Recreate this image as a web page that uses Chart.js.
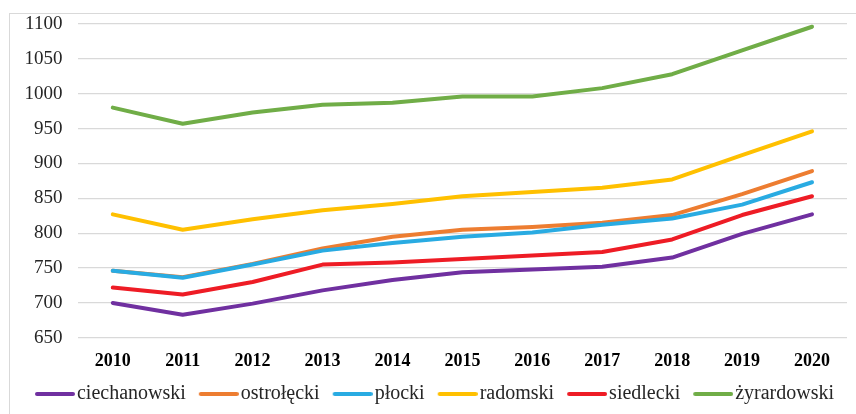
<!DOCTYPE html>
<html>
<head>
<meta charset="utf-8">
<script src="https://cdn.jsdelivr.net/npm/chart.js@4/dist/chart.umd.min.js"></script>
<style>
  html, body { margin: 0; padding: 0; background: #fff; }
  #wrap { position: relative; width: 856px; height: 414px; }
</style>
</head>
<body>
<div id="wrap"><canvas id="chart" width="856" height="414"></canvas></div>
<script>
const years = ["2010", "2011", "2012", "2013", "2014", "2015", "2016", "2017", "2018", "2019", "2020"];

const ciechanowski = [700, 683, 699, 718, 733, 744, 748, 752, 765, 799, 827];
const ostroleki    = [746, 737, 756, 778, 795, 805, 809, 815, 826, 856, 889];
const plocki       = [746, 736, 755, 775, 786, 795, 801, 812, 821, 841, 873];
const radomski     = [827, 805, 820, 833, 842, 853, 859, 865, 877, 912, 946];
const siedlecki    = [722, 712, 730, 755, 758, 763, 768, 773, 791, 826, 853];
const zyrardowski  = [980, 957, 973, 984, 987, 996, 996, 1008, 1028, 1062, 1096];

const seriesNames = ["ciechanowski", "ostrołęcki", "płocki", "radomski", "siedlecki", "żyrardowski"];
const seriesValues = [ciechanowski, ostroleki, plocki, radomski, siedlecki, zyrardowski];
const seriesColors = ["#7030A0", "#ED7D31", "#29ABE2", "#FFC000", "#EE1C25", "#70AD47"];

const yMin = 650;
const yMax = 1100;
const yStep = 50;

const serif = "'Liberation Serif', 'Times New Roman', serif";
const textColor = "#262626";
const gridColor = "#d9d9d9";

// legend swatch: a short thick line, offset inside a wider transparent image
function swatch(color) {
  const c = document.createElement("canvas");
  c.width = 61;
  c.height = 6;
  const g = c.getContext("2d");
  g.strokeStyle = color;
  g.lineWidth = 4;
  g.lineCap = "round";
  g.beginPath();
  g.moveTo(23, 3);
  g.lineTo(59, 3);
  g.stroke();
  return c;
}

const frame = {
  id: "frame",
  beforeDraw(chart) {
    const ctx = chart.ctx;
    ctx.save();
    ctx.fillStyle = "#fff";
    ctx.fillRect(0, 0, chart.width, chart.height);
    ctx.strokeStyle = gridColor;
    ctx.lineWidth = 1;
    ctx.strokeRect(9.5, 13.5, 900, 500);
    ctx.restore();
  }
};

const datasets = seriesNames.map((name, i) => ({
  label: name,
  data: seriesValues[i],
  borderColor: seriesColors[i],
  backgroundColor: seriesColors[i],
  borderWidth: 4,
  borderCapStyle: "round",
  borderJoinStyle: "round",
  pointRadius: 0,
  pointHoverRadius: 0,
  tension: 0,
  fill: false,
  order: -i
}));

new Chart(document.getElementById("chart"), {
  type: "line",
  data: { labels: years, datasets: datasets },
  plugins: [frame],
  options: {
    responsive: false,
    animation: false,
    layout: { padding: { top: 20, right: 9, bottom: 0, left: 9 } },
    plugins: {
      tooltip: { enabled: false },
      legend: {
        position: "bottom",
        labels: {
          usePointStyle: true,
          pointStyleWidth: 45,
          padding: 0,
          color: textColor,
          font: { family: serif, size: 20 },
          sort: (a, b) => a.datasetIndex - b.datasetIndex,
          generateLabels(chart) {
            const items = Chart.defaults.plugins.legend.labels.generateLabels(chart);
            items.forEach((it) => { it.pointStyle = swatch(seriesColors[it.datasetIndex]); });
            return items;
          }
        }
      }
    },
    scales: {
      x: {
        offset: true,
        grid: { display: false, drawTicks: false },
        border: { display: false },
        ticks: {
          padding: 15,
          color: "#000",
          font: { family: serif, size: 18, weight: "bold", lineHeight: 0.9 }
        }
      },
      y: {
        min: yMin,
        max: yMax,
        grid: { color: gridColor, lineWidth: 1.3, drawTicks: false },
        border: { display: false },
        ticks: {
          stepSize: yStep,
          padding: 15.4,
          color: textColor,
          font: { family: serif, size: 19, lineHeight: 0.9 },
          callback: (v) => String(v)
        }
      }
    }
  }
});
</script>
</body>
</html>
